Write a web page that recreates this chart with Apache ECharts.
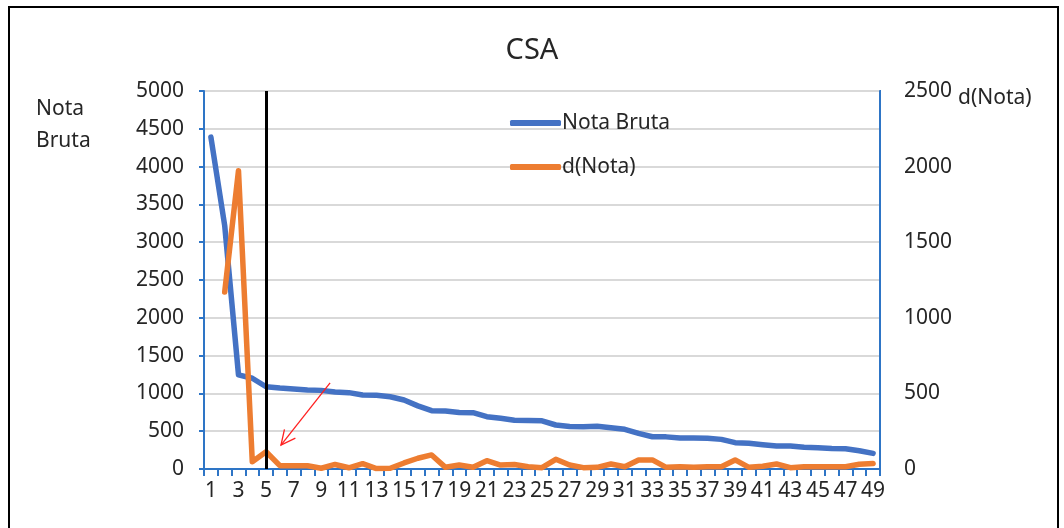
<!DOCTYPE html>
<html>
<head>
<meta charset="utf-8">
<script src="https://cdn.jsdelivr.net/npm/echarts@6/dist/echarts.min.js"></script>
<style>html,body{margin:0;padding:0;background:#fff;}#c{width:1064px;height:528px;}</style>
</head>
<body>
<div id="c"></div>
<script>
const categories = Array.from({length: 49}, (_, i) => String(i + 1));
const notaBruta = [4390, 3220, 1245, 1200, 1088, 1070, 1058, 1045, 1040, 1018, 1010, 979, 975, 956, 913, 835, 771, 767, 748, 745, 692, 670, 645, 640, 638, 582, 562, 560, 565, 547, 525, 472, 427, 425, 410, 410, 408, 392, 348, 340, 322, 304, 304, 287, 282, 270, 268, 242, 207];
const dNota = [null, 1170, 1973, 48, 114, 22, 22, 22, 5, 30, 8, 35, 3, 5, 40, 71, 93, 11, 26, 11, 55, 26, 30, 15, 9, 64, 26, 9, 11, 33, 15, 60, 60, 11, 15, 11, 15, 15, 60, 11, 18, 33, 9, 15, 15, 15, 15, 31, 37];
const leftTicks = {min: 0, max: 5000, interval: 500};
const rightTicks = {min: 0, max: 2500, interval: 500};
const markerCategory = '5';
const arrowFrom = [8.64, 1138];
const arrowTo = [5.08, 317];

const FONT = 'Noto Sans';
const AXIS_BLUE = '#2E75C6';
const plain = v => String(v);
const chart = echarts.init(document.getElementById('c'), null, {renderer: 'canvas'});
chart.setOption({
  animation: false,
  backgroundColor: '#fff',
  textStyle: {fontFamily: FONT},
  title: {
    text: 'CSA', left: 'center', top: 31,
    textStyle: {fontFamily: FONT, fontSize: 29, fontWeight: 'normal', color: '#262626'}
  },
  grid: {left: 204, right: 184, top: 91, bottom: 59, show: true, borderColor: AXIS_BLUE, borderWidth: 2},
  legend: {
    orient: 'vertical', left: 505, top: 106, itemGap: 20,
    itemWidth: 51, itemHeight: 6, icon: 'roundRect',
    textStyle: {fontFamily: FONT, fontSize: 21, color: '#262626', lineHeight: 24, padding: [0, 0, 0, -4]},
    data: ['Nota Bruta', 'd(Nota)']
  },
  xAxis: {
    type: 'category', data: categories, boundaryGap: true,
    axisLine: {lineStyle: {color: AXIS_BLUE, width: 2}},
    axisTick: {show: true, interval: 0, length: 7, lineStyle: {color: AXIS_BLUE, width: 2}},
    axisLabel: {interval: 1, fontFamily: FONT, fontSize: 21, color: '#262626', margin: 12},
    splitLine: {show: false}
  },
  yAxis: [{
    type: 'value', min: leftTicks.min, max: leftTicks.max, interval: leftTicks.interval,
    axisLine: {show: true, lineStyle: {color: AXIS_BLUE, width: 2}},
    axisTick: {show: true, length: 5, lineStyle: {color: AXIS_BLUE, width: 2}},
    axisLabel: {fontFamily: FONT, fontSize: 21, color: '#262626', margin: 20, formatter: plain},
    splitLine: {show: true, lineStyle: {color: '#D9D9D9', width: 2}}
  }, {
    type: 'value', min: rightTicks.min, max: rightTicks.max, interval: rightTicks.interval,
    position: 'right',
    axisLine: {show: true, lineStyle: {color: AXIS_BLUE, width: 2}},
    axisTick: {show: false},
    axisLabel: {fontFamily: FONT, fontSize: 21, color: '#262626', margin: 24, formatter: plain},
    splitLine: {show: false}
  }],
  series: [{
    name: 'Nota Bruta', type: 'line', data: notaBruta, yAxisIndex: 0,
    symbol: 'none', color: '#4472C4',
    lineStyle: {width: 5.5, color: '#4472C4', cap: 'round', join: 'round'}
  }, {
    name: 'd(Nota)', type: 'line', data: dNota, yAxisIndex: 1,
    symbol: 'none', color: '#ED7D31', connectNulls: false,
    lineStyle: {width: 5.5, color: '#ED7D31', cap: 'round', join: 'round'},
    markLine: {
      silent: true, symbol: ['none', 'none'], label: {show: false},
      lineStyle: {color: '#000', width: 3, type: 'solid'},
      data: [{xAxis: markerCategory}]
    }
  }]
});

function toPx(pt) {
  const i = Math.floor(pt[0]);
  const f = pt[0] - i;
  const a = chart.convertToPixel({gridIndex: 0}, [i, pt[1]]);
  const b = chart.convertToPixel({gridIndex: 0}, [i + 1, pt[1]]);
  return [a[0] + f * (b[0] - a[0]), a[1]];
}
const p1 = toPx(arrowFrom), p2 = toPx(arrowTo);
const ang = Math.atan2(p2[1] - p1[1], p2[0] - p1[0]);
const hl = 16, ha = 0.45;
chart.setOption({
  graphic: [
    {type: 'rect', shape: {x: 9, y: 7, width: 1049, height: 560}, style: {fill: 'none', stroke: '#000', lineWidth: 2}, z: 100},
    {type: 'text', left: 36, top: 93, style: {text: 'Nota\nBruta', font: '21px "Noto Sans"', fill: '#262626', lineHeight: 32}},
    {type: 'text', left: 958, top: 88, style: {text: 'd(Nota)', font: '21px "Noto Sans"', fill: '#262626'}},
    {type: 'polyline', shape: {points: [p1, p2]}, style: {stroke: '#FF2020', lineWidth: 1.3, fill: 'none'}, z: 50},
    {type: 'polyline', shape: {points: [
      [p2[0] - hl * Math.cos(ang - ha), p2[1] - hl * Math.sin(ang - ha)], p2,
      [p2[0] - hl * Math.cos(ang + ha), p2[1] - hl * Math.sin(ang + ha)]]},
      style: {stroke: '#FF2020', lineWidth: 1.3, fill: 'none'}, z: 50}
  ]
});
</script>
</body>
</html>
